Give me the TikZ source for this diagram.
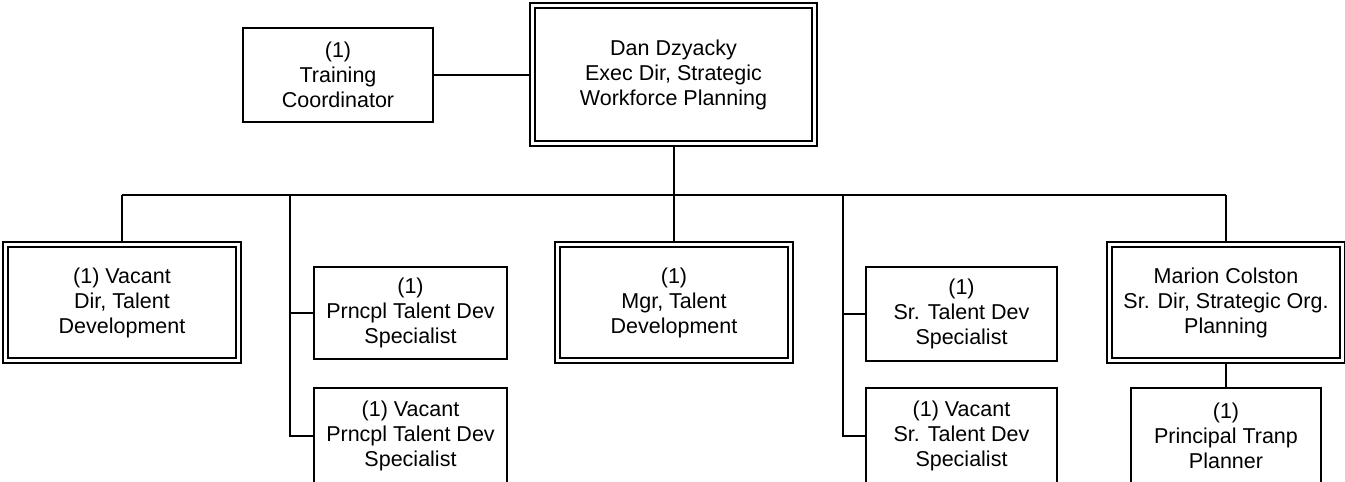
\documentclass[tikz,border=0pt]{standalone}
\usepackage{fontspec}
\setmainfont{Liberation Sans}
\begin{document}
\begin{tikzpicture}[x=1pt,y=-1pt,
  txt/.style={font=\fontsize{21.5}{25}\selectfont, align=center},
  box/.style={draw, line width=2pt, fill=white, txt, inner sep=0pt},
  dbox/.style={draw, line width=1.6pt, double, double distance=3.4pt, fill=white, txt, inner sep=0pt},
  link/.style={line width=2pt}]
\useasboundingbox (0,0) rectangle (1345,482);
% nodes
\node[dbox, minimum width=282.5pt, minimum height=138.5pt] (dan) at (673.5,74.5) {Dan Dzyacky\\Exec Dir, Strategic\\Workforce Planning};
\node[box, minimum width=190pt, minimum height=94pt] (train) at (338,74.5) {(1)\\Training\\Coordinator};
\node[dbox, minimum width=233.5pt, minimum height=116.5pt] (vac) at (122,302.5) {(1) Vacant\\Dir, Talent\\Development};
\node[box, minimum width=193pt, minimum height=92pt] (pr1) at (410.5,313) {(1)\\Prncpl Talent Dev\\Specialist};
\node[box, minimum width=193pt, minimum height=95pt] (pr2) at (410.5,435.5) {(1) Vacant\\Prncpl Talent Dev\\Specialist};
\node[dbox, minimum width=233.5pt, minimum height=116.5pt] (mgr) at (674,302.5) {(1)\\Mgr, Talent\\Development};
\node[box, minimum width=191pt, minimum height=94pt] (sr1) at (961.5,314) {(1)\\Sr. Talent Dev\\Specialist};
\node[box, minimum width=191pt, minimum height=95pt] (sr2) at (961.5,435.5) {(1) Vacant\\Sr. Talent Dev\\Specialist};
\node[dbox, minimum width=233.5pt, minimum height=116.5pt] (mar) at (1226,302.5) {Marion Colston\\Sr. Dir, Strategic Org.\\Planning};
\node[box, minimum width=190pt, minimum height=95pt] (plan) at (1226,435.5) {(1)\\Principal Tranp\\Planner};
% connectors
\coordinate (busL) at (122,195);
\coordinate (busR) at (1226,195);
\coordinate (b2) at (290,195);
\coordinate (b4) at (843,195);
\draw[link] (train.east) -- (dan.west);
\draw[link] (dan.south) -- (dan.south |- busL);
\draw[link] (busL) -- (busR);
\draw[link] (busL) -- (vac.north);
\draw[link] (b2) |- (pr1.west);
\draw[link] (b2) |- (pr2.west);
\draw[link] (mgr.north |- busL) -- (mgr.north);
\draw[link] (b4) |- (sr1.west);
\draw[link] (b4) |- (sr2.west);
\draw[link] (busR) -- (mar.north);
\draw[link] (mar.south) -- (plan.north);
\end{tikzpicture}
\end{document}
